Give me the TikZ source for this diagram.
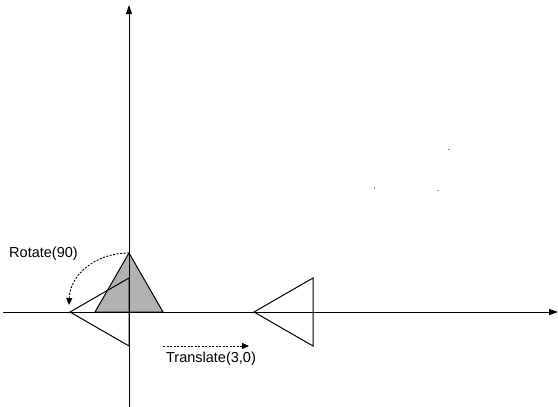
\documentclass[tikz,border=0pt]{standalone}
\usepackage{fontspec}
\setmainfont{Liberation Sans}
\usetikzlibrary{arrows.meta}
\begin{document}
\begin{tikzpicture}[x=1pt,y=-1pt,
  axis/.style={line width=1pt,-{Triangle[length=9pt,width=6pt]}},
  tri/.style={line width=1pt,line join=miter},
  dasharrow/.style={line width=0.9pt,dash pattern=on 2pt off 1.5pt,-{Triangle[length=7pt,width=6pt]}},
  lbl/.style={font=\fontsize{14.5}{16}\selectfont,inner sep=0pt},
  speck/.style={fill=black!45,draw=none}]
\useasboundingbox (0,0) rectangle (558,407);
% axes ends
\coordinate (xl) at (3,312);
\coordinate (xr) at (558,312);
\coordinate (yb) at (129,407);
\coordinate (yt) at (129,5);
% gray triangle
\coordinate (g1) at (129,253);
\coordinate (g2) at (95,312);
\coordinate (g3) at (163,312);
\filldraw[tri,fill=black!30] (g1) -- (g2) -- (g3) -- cycle;
% rotated triangle
\coordinate (r1) at (70,312);
\coordinate (r2) at (129,278);
\coordinate (r3) at (129,346);
\draw[tri] (r1) -- (r2) -- (r3) -- cycle;
% translated triangle
\coordinate (t1) at (254,312);
\coordinate (t2) at (313,278);
\coordinate (t3) at (313,346);
\draw[tri] (t1) -- (t2) -- (t3) -- cycle;
% axes
\draw[axis] (xl) -- (xr);
\draw[axis] (yb) -- (yt);
% rotate arrow
\coordinate (rotend) at (69,305);
\draw[dasharrow] (g1) .. controls (95,253) and (70,275) .. (rotend);
\node[lbl,anchor=center] (rotlbl) at (43.5,254) {Rotate(90)};
% translate arrow
\coordinate (trs) at (163,346);
\coordinate (tre) at (249,346);
\draw[dasharrow] (trs) -- (tre);
\node[lbl,anchor=center] (trlbl) at (211,359) {Translate(3,0)};
% specks
\fill[speck] (448.3,148.5) rectangle (449.5,149.7);
\fill[speck] (373.8,187.2) rectangle (374.8,188.7);
\fill[speck] (437.3,189.5) rectangle (438.5,190.7);
\end{tikzpicture}
\end{document}
